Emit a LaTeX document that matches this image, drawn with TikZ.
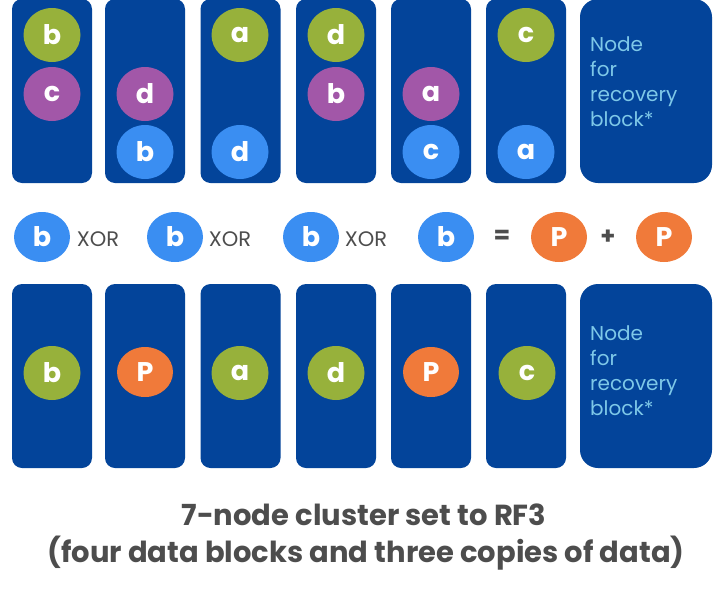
\documentclass[tikz,border=0pt]{standalone}
\usepackage{fontspec}
\setmainfont{Poppins}
\usepackage{xcolor}
\usetikzlibrary{shapes.geometric}
\definecolor{nodeblue}{RGB}{3, 68, 154}
\definecolor{blkgreen}{RGB}{151, 177, 59}
\definecolor{blkpurple}{RGB}{162, 87, 168}
\definecolor{blkblue}{RGB}{58, 142, 242}
\definecolor{blkorange}{RGB}{240, 122, 58}
\definecolor{recovblue}{RGB}{126, 200, 232}
\definecolor{capgray}{RGB}{77, 77, 77}

\begin{document}
\begin{tikzpicture}[x=1pt, y=-1pt,
  clusternode/.style={rectangle, rounded corners=10pt, fill=nodeblue, minimum width=80pt, minimum height=184pt, inner sep=0pt},
  recovnode/.style={clusternode, rounded corners=18pt, minimum width=132pt},
  block/.style={ellipse, fill=#1, text=white, minimum width=57pt, minimum height=54pt, inner sep=0pt, font=\bfseries\fontsize{27}{27}\selectfont},
  xorblock/.style={block=#1, minimum width=56pt, minimum height=50pt},
  recovtext/.style={anchor=west, align=left, inner sep=0pt, text=recovblue, font=\fontsize{20}{25}\selectfont},
  optext/.style={inner sep=0pt, text=capgray, font=\fontsize{21}{21}\selectfont},
  caption/.style={inner sep=0pt, text=capgray, font=\bfseries\fontsize{29}{29}\selectfont}]
\useasboundingbox (0,0) rectangle (726,592);

% Cluster nodes, before and after
\foreach \x [count=\i] in {52,145,240.5,336,431,526} {
  \node[clusternode] (top\i) at (\x,91) {};
  \node[clusternode] (bot\i) at (\x,376) {};
}
\node[recovnode] (top7) at (646,91) {};
\node[recovnode] (bot7) at (646,376) {};

% Three copies of each block
\node[block=blkgreen] (tb1) at (52,35) {b};
\node[block=blkpurple] (tc1) at (52,94) {c};
\node[block=blkpurple] (td2) at (145,94) {d};
\node[block=blkblue] (tb2) at (145,152) {b};
\node[block=blkgreen] (ta3) at (240,35) {a};
\node[block=blkblue] (td3) at (240,152) {d};
\node[block=blkgreen] (td4) at (336,35) {d};
\node[block=blkpurple] (tb4) at (336,94) {b};
\node[block=blkpurple] (ta5) at (431,94) {a};
\node[block=blkblue] (tc5) at (431,152) {c};
\node[block=blkgreen] (tc6) at (526,35) {c};
\node[block=blkblue] (ta6) at (526,152) {a};
\node[recovtext] (toprec) at (590,81.5) {Node\\for\\recovery\\block*};

% Parity
\node[xorblock=blkblue] (xb1) at (42,237) {b};
\node[optext] (xor1) at (98,239) {XOR};
\node[xorblock=blkblue] (xb2) at (175,237) {b};
\node[optext] (xor2) at (230,239) {XOR};
\node[xorblock=blkblue] (xb3) at (311,237) {b};
\node[optext] (xor3) at (366,239) {XOR};
\node[xorblock=blkblue] (xb4) at (446,237) {b};
\node[optext, font=\bfseries\fontsize{24}{24}\selectfont] (eq) at (502,237) {=};
\node[xorblock=blkorange] (xp1) at (559,237) {P};
\node[optext, font=\bfseries\fontsize{24}{24}\selectfont] (plus) at (608,237) {+};
\node[xorblock=blkorange] (xp2) at (664,237) {P};

% Erasure coded
\node[block=blkgreen] (bb1) at (52,373) {b};
\node[xorblock=blkorange] (bp2) at (145,372) {P};
\node[block=blkgreen] (ba3) at (240,373) {a};
\node[block=blkgreen] (bd4) at (336,373) {d};
\node[xorblock=blkorange] (bp5) at (431,372) {P};
\node[block=blkgreen] (bc6) at (527,373) {c};
\node[recovtext] (botrec) at (590,370.5) {Node\\for\\recovery\\block*};

\node[caption] (title) at (364,515) {7-node cluster set to RF3};
\node[caption] (subtitle) at (366,553) {(four data blocks and three copies of data)};
\end{tikzpicture}
\end{document}
